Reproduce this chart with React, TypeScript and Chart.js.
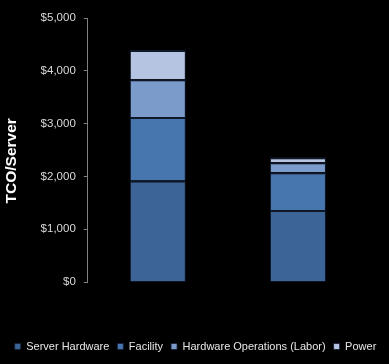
import React, { useEffect, useRef } from "react";
import { Chart, registerables } from "chart.js";

Chart.register(...registerables);

const categories = ["A", "B"];
const serverHardware = [1920, 1363];
const facility = [1204, 715];
const hardwareOps = [716, 190];
const power = [552, 95];
const seriesNames = ["Server Hardware", "Facility", "Hardware Operations (Labor)", "Power"];
const yTicks = [0, 1000, 2000, 3000, 4000, 5000];

const FONT = "'Liberation Sans', Arial";

export default function App() {
  const ref = useRef<HTMLCanvasElement>(null);
  useEffect(() => {
    document.body.style.margin = "0";
    document.body.style.background = "#000";
    const colors = ["#3d6496", "#4775ad", "#7b9bcb", "#b5c4e1"];
    const data = [serverHardware, facility, hardwareOps, power];
    const chart = new Chart(ref.current!, {
      type: "bar",
      data: {
        labels: categories,
        datasets: data.map((d, i) => ({
          label: seriesNames[i],
          data: d,
          backgroundColor: colors[i],
          borderColor: "rgba(20,30,50,0.8)",
          borderWidth: { top: 2, bottom: 0, left: 1, right: 1 },
          barPercentage: 0.4,
          categoryPercentage: 1,
        })),
      },
      options: {
        animation: false,
        responsive: false,
        maintainAspectRatio: false,
        layout: { padding: { left: 2, right: 0, top: 18, bottom: 2 } },
        plugins: {
          tooltip: { enabled: false },
          legend: {
            position: "bottom",
            labels: {
              color: "#e6e6e6",
              font: { family: FONT, size: 11 },
              boxWidth: 6,
              boxHeight: 6,
              padding: 8,
            },
          },
        },
        scales: {
          x: {
            stacked: true,
            display: true,
            ticks: { display: false },
            grid: { display: false },
            border: { display: false },
            afterFit: (s: any) => {
              s.height = 51;
            },
          },
          y: {
            stacked: true,
            min: 0,
            max: 5000,
            afterBuildTicks: (axis: any) => {
              axis.ticks = yTicks.map((v) => ({ value: v }));
            },
            border: { display: true, color: "#808080", width: 1 },
            grid: { drawOnChartArea: false, color: "#808080", tickLength: 4 },
            ticks: {
              color: "#d9d9d9",
              font: { family: FONT, size: 11.5 },
              padding: 8,
              callback: (v: any) => "$" + Number(v).toLocaleString("en-US"),
            },
            title: {
              display: true,
              text: "TCO/Server     ",
              color: "#ffffff",
              font: { family: FONT, size: 15.5, weight: "bold" },
              padding: { top: 0, bottom: 12 },
            },
          },
          y2: {
            position: "right",
            display: true,
            ticks: { display: false },
            grid: { display: false },
            border: { display: false },
            afterFit: (s: any) => {
              s.width = 21;
            },
          },
        },
      },
    });
    return () => chart.destroy();
  }, []);
  return (
    <div style={{ width: 389, height: 364, background: "#000" }}>
      <canvas ref={ref} width={389} height={364} />
    </div>
  );
}
